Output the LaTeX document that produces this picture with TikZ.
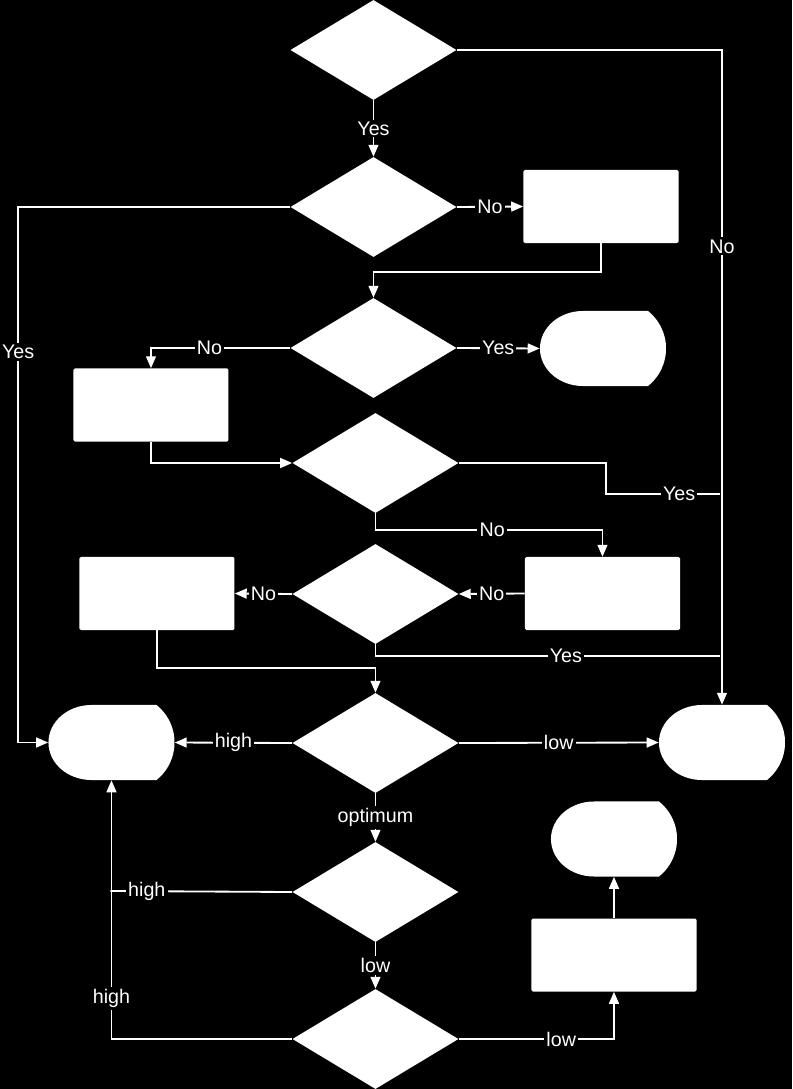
\documentclass[tikz,border=0pt]{standalone}
\usepackage{fontspec}
\setmainfont{Liberation Sans}
\usetikzlibrary{shapes.geometric,arrows.meta}

\begin{document}
\begin{tikzpicture}[x=0.025cm,y=-0.025cm]
    	\colorlet{shape area}{white}
    	\colorlet{flow edge}{white}
    	\colorlet{page back}{black}

    	\tikzset{
    		decision/.style={diamond, fill=shape area, minimum width=4.15cm, minimum height=2.5cm, inner sep=0pt},
    		process/.style={rectangle, fill=shape area, rounded corners=1pt, minimum width=3.875cm, minimum height=1.825cm, inner sep=0pt},
    		terminal/.style={rectangle, minimum width=3.15cm, minimum height=1.875cm, inner sep=0pt,
    			path picture={\fill[shape area] ([xshift=1.075cm]path picture bounding box.north west)
    				-- ([xshift=-0.45cm]path picture bounding box.north east)
    				arc[start angle=51.4, end angle=-51.4, radius=1.2cm]
    				-- ([xshift=1.075cm]path picture bounding box.south west)
    				arc[start angle=270, end angle=90, x radius=1.075cm, y radius=0.9375cm] -- cycle;}},
    		flow/.style={draw=flow edge, line width=1.3pt},
    		arr/.style={flow, -{Triangle[length=8.5pt,width=7pt]}},
    		lbl/.style={fill=page back, text=white, inner sep=1.5pt, font=\fontsize{14}{16}\selectfont},
    	}

    	\fill[page back] (0,0) rectangle (792,1089); %background

    	% decisions
    	\node[decision] (decA) at (373,50) {};
    	\node[decision] (decB) at (373,207) {};
    	\node[decision] (decC) at (373,348) {};
    	\node[decision] (decD) at (375,463) {};
    	\node[decision] (decE) at (375,594) {};
    	\node[decision] (decF) at (375,743) {};
    	\node[decision] (decG) at (375,892) {};
    	\node[decision] (decH) at (375,1039) {};

    	% processes
    	\node[process] (procA) at (600.5,206.5) {};
    	\node[process] (procB) at (150.5,405) {};
    	\node[process] (procC) at (602,593.5) {};
    	\node[process] (procD) at (156.5,593.5) {};
    	\node[process, minimum width=4.125cm] (procE) at (613.5,955) {};

    	% terminals
    	\node[terminal] (termA) at (602.5,348.5) {};
    	\node[terminal] (termB) at (111,742.5) {};
    	\node[terminal] (termC) at (721.5,742.5) {};
    	\node[terminal] (termD) at (613.5,839) {};

    	\coordinate (joinA) at (720,494);
    	\coordinate (joinB) at (720,656);
    	\coordinate (joinC) at (110,891);

    	\draw[arr] (decA.south) -- node[lbl] {Yes} (decB.north);
    	\draw[arr] (decA.east) -| node[lbl, pos=0.65] {No} (termC.north);
    	\draw[arr] (decB.east) -- node[lbl] {No} (procA.west);
    	\draw[arr] (decB.west) -- ++(-272,0) |- node[lbl, pos=0.135] {Yes} (termB.west);
    	\draw[arr] (procA.south) -- ++(0,29) -| (decC.north);
    	\draw[arr] (decC.east) -- node[lbl] {Yes} (termA.west);
    	\draw[arr] (decC.west) -| node[lbl, pos=0.29] {No} (procB.north);
    	\draw[arr] (procB.south) |- (decD.west);
    	\draw[flow] (decD.east) -- ++(147,0) |- node[lbl, pos=0.82] {Yes} (joinA);
    	\draw[arr] (decD.south) -- ++(0,17) -| node[lbl, pos=0.257] {No} (procC.north);
    	\draw[arr] (procC.west) -- node[lbl] {No} (decE.east);
    	\draw[arr] (decE.west) -- node[lbl] {No} (procD.east);
    	\draw[flow] (decE.south) |- node[lbl, pos=0.776] {Yes} (joinB);
    	\draw[arr] (procD.south) -- ++(0,38) -| (decF.north);
    	\draw[arr] (decF.west) -- node[lbl] {high} (termB.east);
    	\draw[arr] (decF.east) -- node[lbl] {low} (termC.west);
    	\draw[arr] (decF.south) -- node[lbl] {optimum} (decG.north);
    	\draw[flow] (decG.west) -- node[lbl, pos=0.8] {high} (joinC);
    	\draw[arr] (decG.south) -- node[lbl] {low} (decH.north);
    	\draw[arr] (decH.west) -| node[lbl, pos=0.578] {high} (termB.south);
    	\draw[arr] (decH.east) -| node[lbl, pos=0.33] {low} (procE.south);
    	\draw[arr] (procE.north) -- (termD.south);
\end{tikzpicture}
\end{document}
